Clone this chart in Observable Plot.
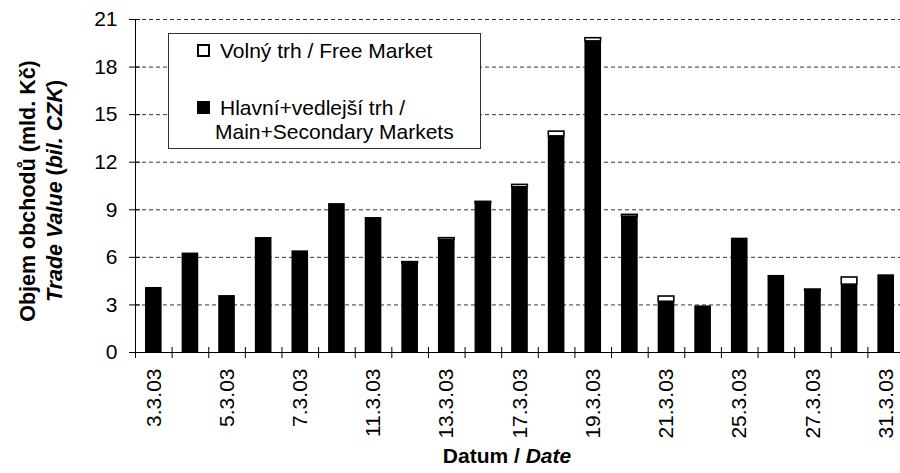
<!DOCTYPE html>
<html>
<head>
<meta charset="utf-8">
<script src="https://cdn.jsdelivr.net/npm/d3@7"></script>
<script src="https://cdn.jsdelivr.net/npm/@observablehq/plot@0.6"></script>
<style>
  html, body { margin: 0; padding: 0; background: #fff; }
  #wrap { position: relative; width: 900px; height: 473px; font-family: "Liberation Sans", Arial, sans-serif; }
  #legend { position: absolute; left: 168px; top: 33px; width: 311px; height: 114px; border: 1px solid #333; background: #fff; font-size: 21px; color: #000; }
  .sw { position: absolute; width: 9px; height: 9px; border: 2px solid #000; }
  .lt { position: absolute; white-space: nowrap; line-height: 21px; }
</style>
</head>
<body>
<div id="wrap"></div>
<script>
// Trading days, March 2003
const dates = ["3.3.03","4.3.03","5.3.03","6.3.03","7.3.03","10.3.03","11.3.03","12.3.03","13.3.03","14.3.03",
  "17.3.03","18.3.03","19.3.03","20.3.03","21.3.03","24.3.03","25.3.03","26.3.03","27.3.03","28.3.03","31.3.03"];
// Main + secondary markets (bil. CZK)
const mainMarket = [4.10, 6.27, 3.59, 7.25, 6.41, 9.39, 8.51, 5.62, 7.09, 9.42,
  10.42, 13.63, 19.62, 8.56, 3.20, 2.94, 7.21, 4.86, 3.89, 4.28, 4.90];
// Free market (bil. CZK)
const freeMarket = [0, 0, 0, 0, 0, 0, 0, 0.08, 0.12, 0.08,
  0.15, 0.30, 0.20, 0.12, 0.33, 0, 0, 0, 0.08, 0.45, 0];
const xTickLabels = ["3.3.03","5.3.03","7.3.03","11.3.03","13.3.03","17.3.03","19.3.03","21.3.03","25.3.03","27.3.03","31.3.03"];
const yTicks = [0, 3, 6, 9, 12, 15, 18, 21];
const seriesNames = ["Volný trh / Free Market", "Hlavní+vedlejší trh /", "Main+Secondary Markets"];

const rows = dates.map((d, i) => ({i, date: d, main: mainMarket[i], free: freeMarket[i]}));
const labelPos = xTickLabels.map(l => dates.indexOf(l) + 0.5);

const chart = Plot.plot({
  width: 900, height: 473,
  marginLeft: 135, marginRight: -4, marginTop: 19, marginBottom: 121,
  style: {fontFamily: "'Liberation Sans', Arial, sans-serif", fontSize: "21px", background: "#fff", color: "#000", overflow: "hidden"},
  x: {type: "linear", domain: [0, dates.length], axis: null, label: null},
  y: {domain: [0, 21], axis: null, label: null},
  marks: [
    Plot.ruleY(yTicks.filter(v => v > 0), {stroke: "#000", strokeOpacity: 0.8, strokeDasharray: "4,3", strokeWidth: 1}),
    Plot.rect(rows, {x1: "i", x2: d => d.i + 1, y1: 0, y2: "main", fill: "#000", insetLeft: 10, insetRight: 10}),
    Plot.rect(rows.filter(d => d.free > 0), {x1: "i", x2: d => d.i + 1, y1: "main", y2: d => d.main + d.free,
      fill: "#fff", stroke: "#000", strokeWidth: 1.6, insetLeft: 10.5, insetRight: 10.5}),
    Plot.ruleX([0], {stroke: "#000"}),
    Plot.ruleY([0], {stroke: "#000"}),
    Plot.axisY(yTicks, {label: null, tickSize: 11, dx: 5, tickPadding: 12, fontSize: 21, stroke: "#000"}),
    Plot.axisX(d3.range(0, dates.length + 1), {label: null, tickSize: 11, dy: -5, tickFormat: () => "", stroke: "#000"}),
    Plot.axisX(labelPos, {label: null, tickSize: 0, tickRotate: -90, tickPadding: 16, fontSize: 21,
      tickFormat: v => xTickLabels[labelPos.indexOf(v)]})
  ]
});

const wrap = document.getElementById("wrap");
wrap.appendChild(chart);

const svg = d3.select(chart);
const t1 = svg.append("text")
  .attr("transform", "translate(27,191) rotate(-90)")
  .attr("text-anchor", "middle").attr("dy", "0.35em")
  .attr("font-weight", "bold").attr("font-size", 21.5).attr("fill", "#000");
t1.text("Objem obchodů (mld. Kč)");
const t2 = svg.append("text")
  .attr("transform", "translate(54,191) rotate(-90)")
  .attr("text-anchor", "middle").attr("dy", "0.35em")
  .attr("font-weight", "bold").attr("font-size", 21.5).attr("fill", "#000");
t2.append("tspan").attr("font-style", "italic").text("Trade Value");
t2.append("tspan").text(" (");
t2.append("tspan").attr("font-style", "italic").text("bil. CZK");
t2.append("tspan").text(")");
const t3 = svg.append("text")
  .attr("x", 507).attr("y", 456)
  .attr("text-anchor", "middle").attr("dy", "0.35em")
  .attr("font-weight", "bold").attr("font-size", 21).attr("fill", "#000");
t3.append("tspan").text("Datum / ");
t3.append("tspan").attr("font-style", "italic").text("Date");

// Legend overlay
const lg = document.createElement("div");
lg.id = "legend";
lg.innerHTML =
  `<div class="sw" style="left:28px;top:10px;background:#fff"></div>
   <div class="lt" style="left:51px;top:6px">${seriesNames[0]}</div>
   <div class="sw" style="left:28px;top:67px;background:#000"></div>
   <div class="lt" style="left:51px;top:63px">${seriesNames[1]}</div>
   <div class="lt" style="left:46px;top:87px">${seriesNames[2]}</div>`;
wrap.appendChild(lg);
</script>
</body>
</html>
